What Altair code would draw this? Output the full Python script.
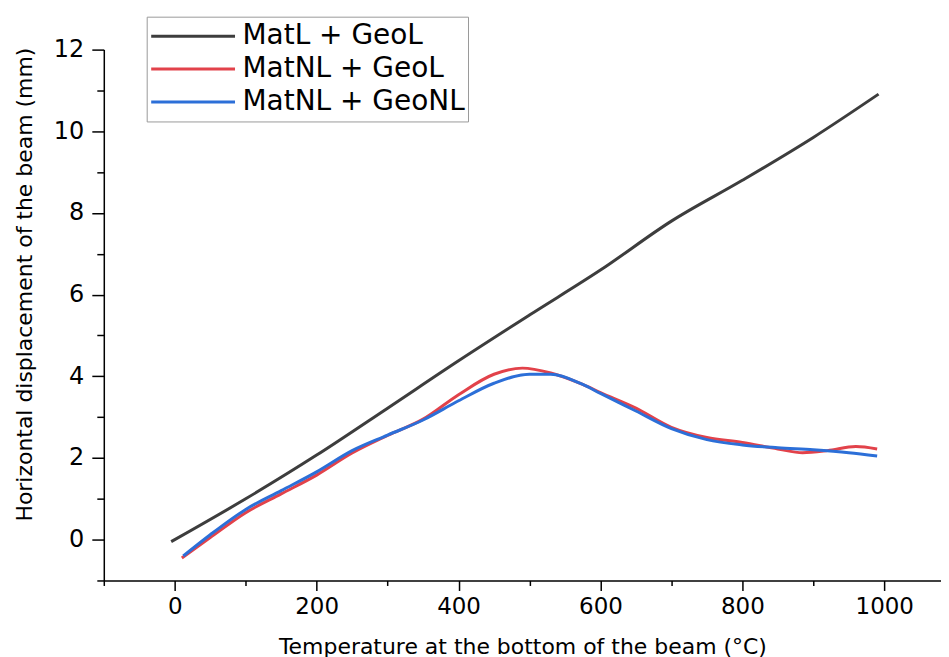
import altair as alt
import pandas as pd

series_names = ["MatL + GeoL", "MatNL + GeoL", "MatNL + GeoNL"]
series_colors = ["#3d3d3d", "#e2424a", "#2c6fd8"]

matl_geol_t = [-5, 100, 200, 300, 400, 500, 600, 700, 800, 900, 992]
matl_geol_d = [-0.05, 1.0, 2.07, 3.22, 4.38, 5.5, 6.6, 7.8, 8.8, 9.85, 10.91]

matnl_geol_t = [10, 50, 100, 150, 200, 250, 300, 350, 400, 450, 490, 530, 575, 600, 650, 700, 750, 800, 850, 885, 920, 960, 990]
matnl_geol_d = [-0.45, 0.05, 0.66, 1.12, 1.58, 2.12, 2.55, 2.95, 3.55, 4.05, 4.20, 4.08, 3.80, 3.60, 3.22, 2.75, 2.50, 2.38, 2.22, 2.13, 2.18, 2.28, 2.22]

matnl_geonl_t = [12, 50, 100, 150, 200, 250, 300, 350, 400, 450, 500, 530, 575, 600, 650, 700, 750, 800, 850, 900, 950, 990]
matnl_geonl_d = [-0.40, 0.12, 0.74, 1.20, 1.66, 2.18, 2.56, 2.93, 3.40, 3.83, 4.05, 4.05, 3.80, 3.58, 3.15, 2.72, 2.45, 2.32, 2.25, 2.20, 2.13, 2.05]

rows = []
for name, ts, ds in [
    (series_names[0], matl_geol_t, matl_geol_d),
    (series_names[1], matnl_geol_t, matnl_geol_d),
    (series_names[2], matnl_geonl_t, matnl_geonl_d),
]:
    for t, d in zip(ts, ds):
        rows.append({"series": name, "T": t, "D": d})
df = pd.DataFrame(rows)

x_ticks = list(range(-100, 1001, 100))
y_ticks = list(range(-1, 13))

font = "DejaVu Sans"

chart = alt.Chart(df).mark_line(strokeWidth=3, interpolate="monotone").encode(
    x=alt.X(
        "T:Q",
        scale=alt.Scale(domain=[-100, 1080], nice=False, zero=False),
        axis=alt.Axis(
            title="Temperature at the bottom of the beam (°C)",
            values=x_ticks,
            labelExpr="datum.value % 200 == 0 && datum.value >= 0 ? datum.label : ''",
            format="d",
            tickSize={"condition": {"test": "datum.value % 200 != 0", "value": 5}, "value": 10},
            labelPadding=5,
            labelFontSize=23,
            titleFontSize=22,
            titlePadding=18,
        ),
    ),
    y=alt.Y(
        "D:Q",
        scale=alt.Scale(domain=[-1, 12], nice=False, zero=False),
        axis=alt.Axis(
            title="Horizontal displacement of the beam (mm)",
            values=y_ticks,
            labelExpr="datum.value % 2 == 0 && datum.value >= 0 ? datum.label : ''",
            format="d",
            tickSize={"condition": {"test": "datum.value % 2 != 0", "value": 7}, "value": 12},
            labelPadding=8,
            labelFontSize=24,
            titleFontSize=22,
            titlePadding=17,
            titleY=235,
        ),
    ),
    color=alt.Color(
        "series:N",
        scale=alt.Scale(domain=series_names, range=series_colors),
        legend=alt.Legend(
            title=None,
            orient="none",
            legendX=43,
            legendY=-33,
            symbolType="stroke",
            symbolSize=7056,
            symbolStrokeWidth=3,
            clipHeight=33,
            labelFontSize=28,
            labelFont=font,
            labelOffset=6,
            labelLimit=500,
            padding=3,
            rowPadding=0,
            strokeColor="#9a9a9a",
            fillColor="white",
        ),
    ),
    order=alt.Order("T:Q"),
).properties(
    width=839,
    height=532,
    padding={"left": 5, "top": 7, "right": 0, "bottom": 0},
).configure_view(
    stroke=None
).configure_axis(
    grid=False,
    domainColor="black",
    domainWidth=1.5,
    tickColor="black",
    tickWidth=1.5,
    labelFont=font,
    titleFont=font,
    labelColor="black",
    titleColor="black",
    titleFontWeight="normal",
).configure_legend(
    labelColor="black",
)

chart.save("out.html", embed_options={"renderer": "svg", "actions": False})
